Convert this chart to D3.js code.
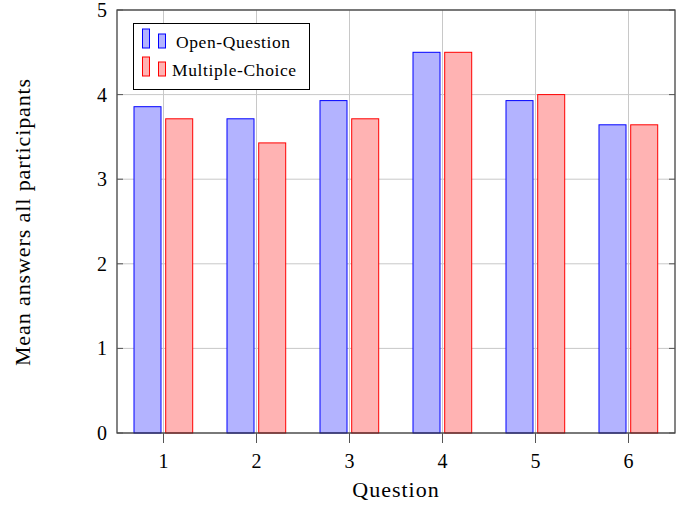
<!DOCTYPE html>
<html><head><meta charset="utf-8">
<script src="https://cdn.jsdelivr.net/npm/d3@7"></script>
<style>body{margin:0;background:#fff}svg{display:block}text{font-family:"Liberation Serif","DejaVu Serif",serif;fill:#000}</style>
</head><body><svg id="c" width="685" height="506"></svg>
<script>
const questions = [1,2,3,4,5,6];
const openQuestion = [3.857,3.714,3.929,4.5,3.929,3.643];
const multipleChoice = [3.714,3.429,3.714,4.5,4.0,3.643];
const yTicks = [0,1,2,3,4,5];
const seriesNames = ["Open-Question","Multiple-Choice"];

const svg = d3.select("#c");
const L=117,R=675,T=10,B=433;
const x = d3.scaleLinear().domain([0.5,6.5]).range([L,R]);
const y = d3.scaleLinear().domain([0,5]).range([B,T]);
const grid="#c8c8c8";
svg.append("g").selectAll("line").data(yTicks).join("line")
 .attr("x1",L).attr("x2",R).attr("y1",d=>y(d)).attr("y2",d=>y(d)).attr("stroke",grid).attr("stroke-width",1);
svg.append("g").selectAll("line").data(questions).join("line")
 .attr("x1",d=>x(d)).attr("x2",d=>x(d)).attr("y1",T).attr("y2",B).attr("stroke",grid).attr("stroke-width",1);
const bw=27;
const series=[{v:openQuestion,fill:"#b3b3ff",stroke:"#0000ff",off:-16},{v:multipleChoice,fill:"#ffb3b3",stroke:"#ff0000",off:15.7}];
series.forEach(s=>{
 svg.append("g").selectAll("rect").data(questions).join("rect")
  .attr("x",(d,i)=>x(d)+s.off-bw/2).attr("width",bw)
  .attr("y",(d,i)=>y(s.v[i])).attr("height",(d,i)=>y(0)-y(s.v[i]))
  .attr("fill",s.fill).attr("stroke",s.stroke).attr("stroke-width",1);
});
svg.append("rect").attr("x",L).attr("y",T).attr("width",R-L).attr("height",B-T).attr("fill","none").attr("stroke","#333").attr("stroke-width",1.2);
const yt=svg.append("g");
yTicks.forEach(t=>{
 yt.append("line").attr("x1",L).attr("x2",L+6).attr("y1",y(t)).attr("y2",y(t)).attr("stroke","#555");
 yt.append("line").attr("x1",R-6).attr("x2",R).attr("y1",y(t)).attr("y2",y(t)).attr("stroke","#555");
 yt.append("text").attr("x",107).attr("y",y(t)).attr("dy","0.35em").attr("text-anchor","end").attr("font-size",20).text(t);
});
const xt=svg.append("g");
questions.forEach(q=>{
 xt.append("line").attr("x1",x(q)).attr("x2",x(q)).attr("y1",B).attr("y2",B+10).attr("stroke","#555");
 xt.append("text").attr("x",x(q)).attr("y",468).attr("text-anchor","middle").attr("font-size",20).text(q);
});
svg.append("text").attr("x",(L+R)/2).attr("y",497).attr("text-anchor","middle").attr("font-size",22).attr("letter-spacing",1).text("Question");
svg.append("text").attr("transform","translate(30,222) rotate(-90)").attr("text-anchor","middle").attr("font-size",22).attr("letter-spacing",0.9).text("Mean answers all participants");
const lg=svg.append("g");
lg.append("rect").attr("x",133.5).attr("y",23.5).attr("width",176).attr("height",66).attr("fill","#fff").attr("stroke","#000").attr("stroke-width",1);
series.forEach((s,i)=>{
 const by=48+i*28;
 lg.append("rect").attr("x",142.5).attr("y",by-19).attr("width",7).attr("height",19).attr("fill",s.fill).attr("stroke",s.stroke);
 lg.append("rect").attr("x",158.5).attr("y",by-14).attr("width",7).attr("height",14).attr("fill",s.fill).attr("stroke",s.stroke);
 lg.append("text").attr("x",i===0?176:172).attr("y",by).attr("font-size",17.5).attr("letter-spacing",0.6).text(seriesNames[i]);
});
</script></body></html>
